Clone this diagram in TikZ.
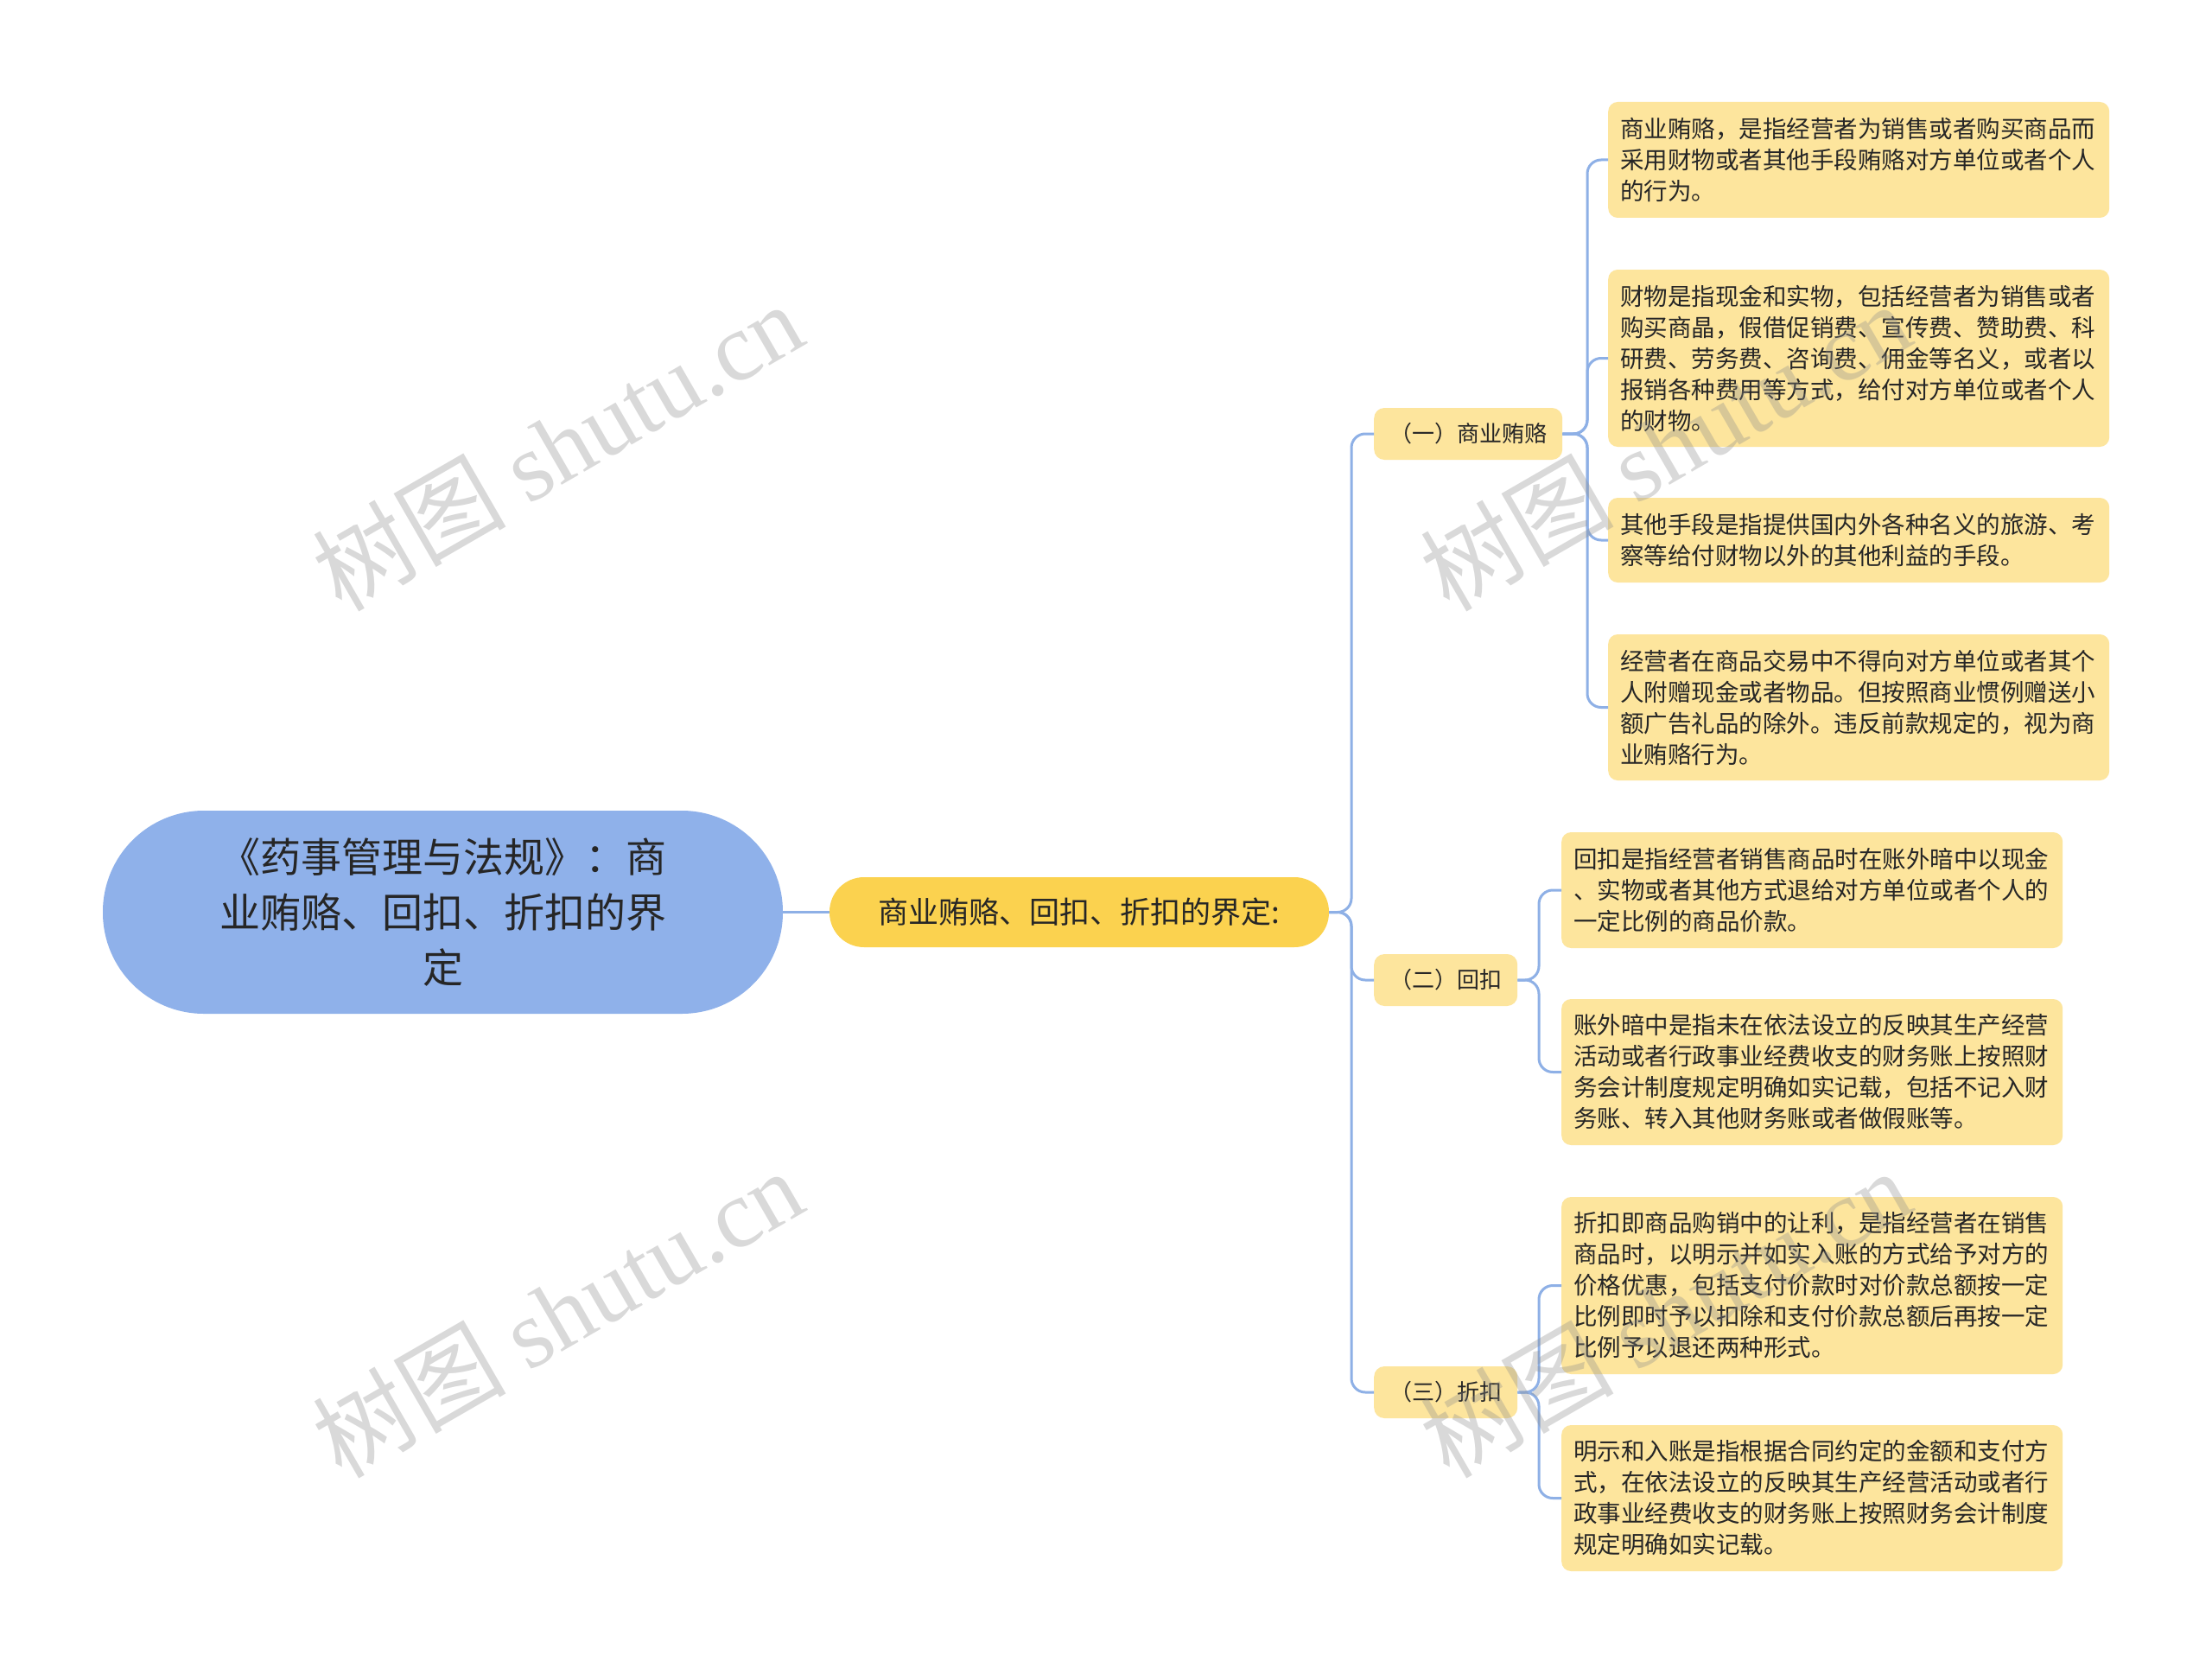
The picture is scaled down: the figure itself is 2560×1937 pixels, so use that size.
\documentclass[tikz,border=0pt]{standalone}
\usepackage{fontspec}
\setmainfont{Noto Sans CJK SC}
\newfontfamily\wmlatin{Liberation Serif}
\definecolor{rootblue}{HTML}{8FB1EA}
\definecolor{gold}{HTML}{FBD24F}
\definecolor{pale}{HTML}{FDE59D}
\definecolor{linkblue}{HTML}{8EB0E6}
\definecolor{wmgray}{HTML}{8C8C8C}
\begin{document}
\begin{tikzpicture}[x=1pt,y=-1pt,
  rootbox/.style={fill=rootblue, rounded corners=117pt, minimum width=787pt, minimum height=235pt,
    align=center, font=\fontsize{47}{64}\selectfont, text=black!85, inner sep=0pt},
  mainbox/.style={fill=gold, rounded corners=40pt, minimum width=578pt, minimum height=81pt,
    font=\fontsize{35}{42}\selectfont, text=black!85, inner sep=0pt},
  subbox/.style={fill=pale, rounded corners=12pt, minimum height=60pt,
    font=\fontsize{26}{32}\selectfont, text=black!85, inner xsep=18pt, inner ysep=0pt},
  leafbox/.style={fill=pale, rounded corners=11pt, text width=552pt, align=left,
    font=\fontsize{27.5}{36}\selectfont, text=black!85, inner xsep=14pt, inner ysep=0pt},
  link/.style={draw=linkblue, line width=3pt, rounded corners=16pt},
  wmark/.style={rotate=30, text=wmgray, text opacity=0.33, font=\fontsize{112}{120}\selectfont}
]
\useasboundingbox[fill=white] (0,0) rectangle (2560,1937);

% root and main branch
\node[rootbox] (root) at (512.5,1055.5) {《药事管理与法规》：商\\业贿赂、回扣、折扣的界\\定};
\node[mainbox] (main) at (1249,1055.5) {商业贿赂、回扣、折扣的界定:};

% second level
\node[subbox, anchor=west] (b1) at (1590,502) {（一）商业贿赂};
\node[subbox, anchor=west] (b2) at (1590,1134) {（二）回扣};
\node[subbox, anchor=west] (b3) at (1590,1611) {（三）折扣};

% leaves of (一)
\node[leafbox, minimum height=134pt, anchor=west] (l1) at (1861,185) {商业贿赂，是指经营者为销售或者购买商品而\\采用财物或者其他手段贿赂对方单位或者个人\\的行为。};
\node[leafbox, minimum height=205pt, anchor=west] (l2) at (1861,414.5) {财物是指现金和实物，包括经营者为销售或者\\购买商晶，假借促销费、宣传费、赞助费、科\\研费、劳务费、咨询费、佣金等名义，或者以\\报销各种费用等方式，给付对方单位或者个人\\的财物。};
\node[leafbox, minimum height=98pt, anchor=west] (l3) at (1861,625) {其他手段是指提供国内外各种名义的旅游、考\\察等给付财物以外的其他利益的手段。};
\node[leafbox, minimum height=169pt, anchor=west] (l4) at (1861,818.5) {经营者在商品交易中不得向对方单位或者其个\\人附赠现金或者物品。但按照商业惯例赠送小\\额广告礼品的除外。违反前款规定的，视为商\\业贿赂行为。};

% leaves of (二)
\node[leafbox, minimum height=134pt, anchor=west] (m1) at (1807,1030) {回扣是指经营者销售商品时在账外暗中以现金\\、实物或者其他方式退给对方单位或者个人的\\一定比例的商品价款。};
\node[leafbox, minimum height=169pt, anchor=west] (m2) at (1807,1240.5) {账外暗中是指未在依法设立的反映其生产经营\\活动或者行政事业经费收支的财务账上按照财\\务会计制度规定明确如实记载，包括不记入财\\务账、转入其他财务账或者做假账等。};

% leaves of (三)
\node[leafbox, minimum height=205pt, anchor=west] (n1) at (1807,1487.5) {折扣即商品购销中的让利，是指经营者在销售\\商品时，以明示并如实入账的方式给予对方的\\价格优惠，包括支付价款时对价款总额按一定\\比例即时予以扣除和支付价款总额后再按一定\\比例予以退还两种形式。};
\node[leafbox, minimum height=169pt, anchor=west] (n2) at (1807,1733.5) {明示和入账是指根据合同约定的金额和支付方\\式，在依法设立的反映其生产经营活动或者行\\政事业经费收支的财务账上按照财务会计制度\\规定明确如实记载。};

% connectors
\draw[link] (root.east) -- (main.west);
\coordinate (t0) at (1564,1055.5);
\foreach \c in {b1,b2,b3} \draw[link] (main.east) -- (t0) |- (\c.west);
\coordinate (t1) at (1837,502);
\foreach \c in {l1,l2,l3,l4} \draw[link] (b1.east) -- (t1) |- (\c.west);
\coordinate (t2) at (1781,1134);
\foreach \c in {m1,m2} \draw[link] (b2.east) -- (t2) |- (\c.west);
\coordinate (t3) at (1781,1611);
\foreach \c in {n1,n2} \draw[link] (b3.east) -- (t3) |- (\c.west);

% watermarks
\node[wmark] (w1) at (645,516) {树图 {\wmlatin shutu.cn}};
\node[wmark] (w2) at (645,1519) {树图 {\wmlatin shutu.cn}};
\node[wmark] (w3) at (1927,516) {树图 {\wmlatin shutu.cn}};
\node[wmark] (w4) at (1927,1519) {树图 {\wmlatin shutu.cn}};
\end{tikzpicture}
\end{document}
